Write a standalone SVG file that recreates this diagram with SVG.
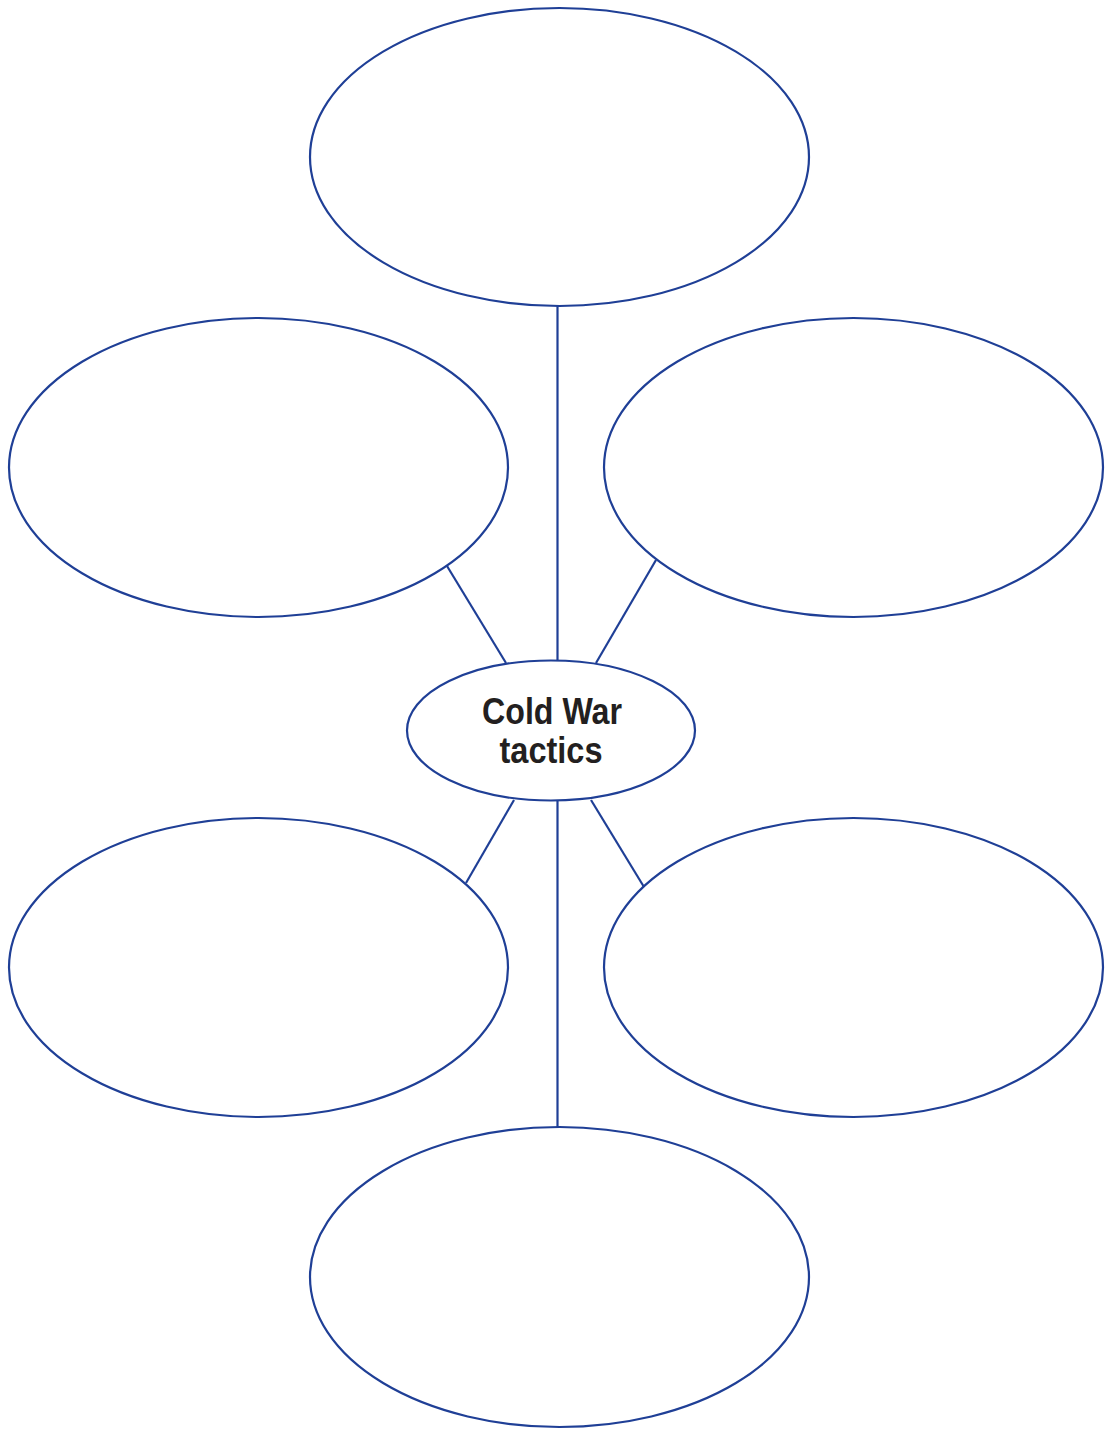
<svg xmlns="http://www.w3.org/2000/svg" width="1109" height="1432" viewBox="0 0 1109 1432">
<style>
.n{fill:#fff;stroke:#1f3f96;stroke-width:2.2}
.c line{stroke:#1f3f96;stroke-width:2.2}
.t{font-family:"Liberation Sans",Arial,sans-serif;font-weight:bold;font-size:36px;fill:#231f20;text-anchor:middle}
</style>
<rect width="1109" height="1432" fill="#fff"/>
<g id="connectors" class="c">
<line x1="557.5" y1="306" x2="557.5" y2="661"/>
<line x1="447" y1="566" x2="506" y2="663"/>
<line x1="656" y1="560" x2="596" y2="663"/>
<line x1="514" y1="800" x2="466" y2="883"/>
<line x1="557.5" y1="800" x2="557.5" y2="1127"/>
<line x1="591" y1="800" x2="644" y2="887"/>
</g>
<g id="top"><ellipse class="n" cx="559.5" cy="157" rx="249.5" ry="149"/></g>
<g id="upper-left"><ellipse class="n" cx="258.5" cy="467.5" rx="249.5" ry="149.5"/></g>
<g id="upper-right"><ellipse class="n" cx="853.5" cy="467.5" rx="249.5" ry="149.5"/></g>
<g id="lower-left"><ellipse class="n" cx="258.5" cy="967.5" rx="249.5" ry="149.5"/></g>
<g id="lower-right"><ellipse class="n" cx="853.5" cy="967.5" rx="249.5" ry="149.5"/></g>
<g id="bottom"><ellipse class="n" cx="559.5" cy="1277" rx="249.5" ry="150"/></g>
<g id="center">
<ellipse class="n" cx="551" cy="730.5" rx="144" ry="70"/>
<text class="t" x="552" y="724" textLength="140" lengthAdjust="spacingAndGlyphs">Cold War</text>
<text class="t" x="551" y="763" textLength="103" lengthAdjust="spacingAndGlyphs">tactics</text>
</g>
</svg>
